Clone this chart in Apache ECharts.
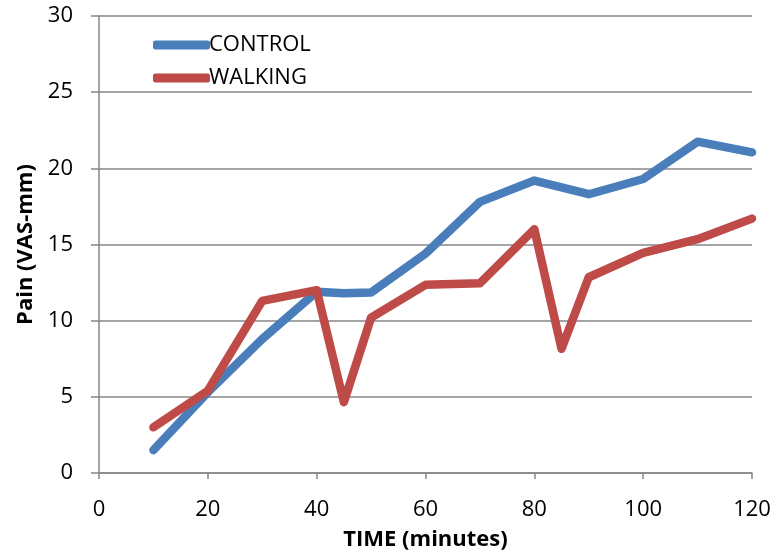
<!DOCTYPE html>
<html>
<head>
<meta charset="utf-8">
<script src="https://cdn.jsdelivr.net/npm/echarts@6/dist/echarts.min.js"></script>
<style>html,body{margin:0;padding:0;background:#fff}#c{width:776px;height:556px}</style>
</head>
<body>
<div id="c"></div>
<script>
const times = [10, 20, 30, 40, 45, 50, 60, 70, 80, 85, 90, 100, 110, 120];
const control = [1.5, 5.3, 8.8, 11.9, 11.8, 11.85, 14.4, 17.8, 19.2, null, 18.3, 19.3, 21.75, 21.05];
const walking = [3.0, 5.4, 11.3, 12.0, 4.65, 10.2, 12.35, 12.45, 16.0, 8.15, 12.85, 14.45, 15.35, 16.7];
const seriesNames = ['CONTROL', 'WALKING'];
const xAxisTitle = 'TIME (minutes)';
const yAxisTitle = 'Pain (VAS-mm)';

const FONT = "'Open Sans', sans-serif";
function pairs(vals){ const out=[]; times.forEach((t,i)=>{ if(vals[i]!==null) out.push([t, vals[i]]); }); return out; }

const chart = echarts.init(document.getElementById('c'), null, {renderer:'canvas'});
chart.setOption({
  animation: false,
  backgroundColor: '#fff',
  grid: {left: 99, right: 24, top: 16, bottom: 82},
  legend: {
    orient: 'vertical', left: 148, top: 29,
    itemWidth: 57, itemHeight: 9, itemGap: 11,
    icon: 'roundRect',
    textStyle: {fontFamily: FONT, fontSize: 22, lineHeight: 22, color: '#000', padding: [0,0,0,-6]},
    data: seriesNames
  },
  xAxis: {
    type: 'value', min: 0, max: 120, interval: 20,
    name: xAxisTitle, nameLocation: 'middle', nameGap: 56,
    nameTextStyle: {fontFamily: FONT, fontSize: 22, fontWeight: 'bold', color: '#000'},
    axisLine: {lineStyle: {color: '#868686', width: 1.5}},
    axisTick: {show: true, length: 6, lineStyle: {color: '#868686', width: 1.5}},
    axisLabel: {fontFamily: FONT, fontSize: 22, color: '#000', margin: 26},
    splitLine: {show: false}
  },
  yAxis: {
    type: 'value', min: 0, max: 30, interval: 5,
    name: yAxisTitle, nameLocation: 'middle', nameGap: 62, nameRotate: 90,
    nameTextStyle: {fontFamily: FONT, fontSize: 22, fontWeight: 'bold', color: '#000'},
    axisLine: {show: true, lineStyle: {color: '#868686', width: 1.5}},
    axisTick: {show: true, length: 8, lineStyle: {color: '#868686', width: 1.5}},
    axisLabel: {fontFamily: FONT, fontSize: 22, color: '#000', margin: 26},
    splitLine: {show: true, lineStyle: {color: '#868686', width: 1.5}}
  },
  series: [
    {name: seriesNames[0], type: 'line', data: pairs(control), showSymbol: false, symbol: 'none',
     itemStyle: {color: '#4A7EBB'}, lineStyle: {color: '#4A7EBB', width: 8.5, cap: 'round', join: 'round'}},
    {name: seriesNames[1], type: 'line', data: pairs(walking), showSymbol: false, symbol: 'none',
     itemStyle: {color: '#BE4B48'}, lineStyle: {color: '#BE4B48', width: 8.5, cap: 'round', join: 'round'}}
  ]
});
</script>
</body>
</html>
